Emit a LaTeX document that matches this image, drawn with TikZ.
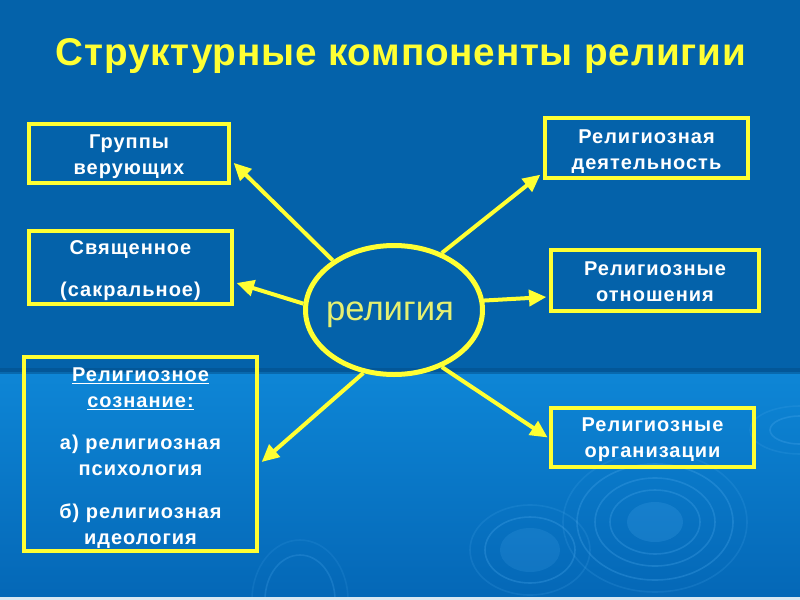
\documentclass[tikz,border=0pt]{standalone}
\usepackage{fontspec}
\setmainfont{Liberation Sans}
\newfontfamily\titlefont[LetterSpace=2]{Liberation Sans}
\newfontfamily\boxfont[LetterSpace=5]{Liberation Sans}
\usetikzlibrary{shapes.geometric,arrows.meta}
\definecolor{bgtop}{HTML}{0462AA}
\definecolor{bgbot1}{HTML}{0E86D6}
\definecolor{bgbot2}{HTML}{0467B6}
\definecolor{ylw}{HTML}{FFFF33}
\definecolor{reltext}{HTML}{E6F070}
\definecolor{ripple}{HTML}{4AA8EC}
\tikzset{
  box/.style={draw=ylw, line width=3pt, inner sep=0pt},
  boxtext/.style={inner sep=0pt, align=center, text=white,
    font=\boxfont\bfseries\fontsize{15pt}{19.5pt}\selectfont},
  arr/.style={draw=ylw, line width=3pt, -{Triangle[length=13pt,width=12pt]}},
  rip/.style={draw=ripple, line width=1.2pt, opacity=0.3},
}
\begin{document}
\begin{tikzpicture}[x=0.75pt,y=-0.75pt]
\useasboundingbox (0,0) rectangle (800,600);
% background
\fill[bgtop] (0,0) rectangle (800,372);
\shade[top color=bgbot1, bottom color=bgbot2] (0,372) rectangle (800,600);
\fill[bgtop!80!black, opacity=0.5] (0,368) rectangle (800,374);
% ripples
\begin{scope}
\clip (0,374) rectangle (800,600);
\fill[ripple, opacity=0.22] (655,522) ellipse (28 and 20);
\draw[rip] (655,522) ellipse (45 and 32);
\draw[rip] (655,522) ellipse (60 and 44);
\draw[rip] (655,522) ellipse (78 and 58);
\draw[rip, opacity=0.18] (655,522) ellipse (92 and 70);
\fill[ripple, opacity=0.18] (530,550) ellipse (30 and 22);
\draw[rip] (530,550) ellipse (45 and 33);
\draw[rip, opacity=0.18] (530,550) ellipse (60 and 45);
\draw[rip] (800,430) ellipse (30 and 14);
\draw[rip, opacity=0.18] (800,430) ellipse (50 and 24);
\draw[rip, opacity=0.25] (300,600) ellipse (35 and 45);
\draw[rip, opacity=0.15] (300,600) ellipse (48 and 60);
\end{scope}
\fill[white!85!bgtop] (0,597) rectangle (800,600);
% title
\node[font=\titlefont\bfseries\fontsize{29pt}{34pt}\selectfont, text=ylw] (title) at (401,56) {Структурные компоненты религии};
% center
\node[ellipse, draw=ylw, line width=3.75pt, minimum width=132.75pt, minimum height=96.75pt, inner sep=0pt] (rel) at (394,310) {};
\node[anchor=base, inner sep=0pt, text=reltext, font=\fontsize{26pt}{30pt}\selectfont] (rt) at (390,320) {религия};
% boxes
\node[box, minimum width=150pt, minimum height=44.25pt] (b1) at (129,153.5) {};
\node[box, minimum width=152.25pt, minimum height=54.75pt] (b2) at (130.5,267.5) {};
\node[box, minimum width=174.75pt, minimum height=145.5pt] (b3) at (140.5,454) {};
\node[box, minimum width=152.25pt, minimum height=45pt] (b4) at (646.5,148) {};
\node[box, minimum width=156pt, minimum height=45.75pt] (b5) at (655,280.5) {};
\node[box, minimum width=152.25pt, minimum height=44.25pt] (b6) at (652.5,437.5) {};
% box texts
\node[boxtext] (t1) at ([yshift=-2.5pt]b1.center) {Группы\\верующих};
\node[boxtext] (t2) at ([yshift=-2.5pt]b2.center) {Священное\\[12pt](сакральное)};
\node[boxtext] (t3) at ([yshift=-3pt]b3.center)
  {\underline{Религиозное}\\\underline{сознание:}\\[12pt]а) религиозная\\психология\\[13pt]б) религиозная\\идеология};
\node[boxtext] (t4) at ([yshift=-2.5pt]b4.center) {Религиозная\\деятельность};
\node[boxtext] (t5) at ([yshift=-1pt]b5.center) {Религиозные\\отношения};
\node[boxtext] (t6) at ([yshift=-2pt]b6.center) {Религиозные\\организации};
% arrows
\draw[arr] (rel.141) -- ([xshift=2pt,yshift=-7pt]b1.east);
\draw[arr] (rel.176) -- ([xshift=2pt,yshift=-11.6pt]b2.east);
\draw[arr] (rel.244) -- ([xshift=2pt,yshift=-6pt]b3.east);
\draw[arr] (rel.50) -- ([xshift=-2pt,yshift=-20pt]b4.west);
\draw[arr] (rel.6) -- ([xshift=-2pt,yshift=-12.4pt]b5.west);
\draw[arr] (rel.-50) -- ([xshift=-1pt,yshift=0pt]b6.west);
\end{tikzpicture}
\end{document}
